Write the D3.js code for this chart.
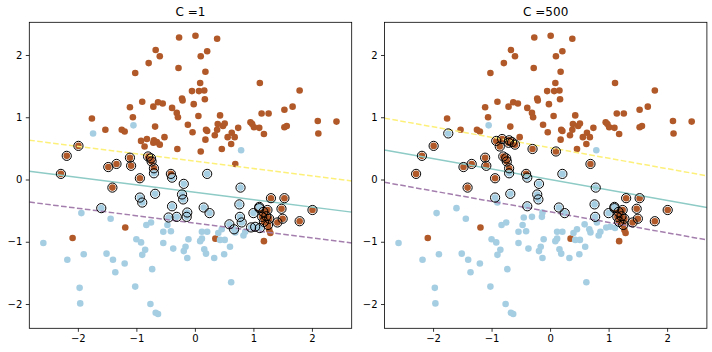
<!DOCTYPE html>
<html><head><meta charset="utf-8">
<script src="https://cdn.jsdelivr.net/npm/d3@7"></script>
<style>body{margin:0;background:#fff}text{font-family:"DejaVu Sans",sans-serif}</style>
</head><body>
<svg id="chart" width="712" height="352"></svg>
<script>
// ---- data ----
const titles = ["C =1", "C =500"];
const xTicks = [-2, -1, 0, 1, 2];
const yTicks = [-2, -1, 0, 1, 2];
const xDomain = [-2.83, 2.68];
const yDomain = [-2.39, 2.525];

const brownX = [-0.27,0.01,-0.67,-0.60,-0.79,-0.28,-1.02,-0.05,-0.22,-0.21,
 -0.90,-0.63,-0.55,-0.71,-1.11,-0.39,-0.31,-0.29,-1.06,-1.76,
 -0.02,-0.68,-0.12,-0.04,-1.53,-1.25,-1.20,-0.52,-0.82,-0.92,
 -0.70,-0.65,-0.60,-0.71,-0.86,-0.30,0.38,0.10,0.21,0.18,
 0.09,0.07,0.16,0.17,1.11,1.79,1.14,1.26,1.53,1.67,
 0.06,0.43,0.39,0.48,0.51,0.19,0.21,0.38,0.34,0.95,
 0.98,1.01,1.10,0.74,0.63,0.56,0.68,1.18,0.18,0.62,
 0.46,0.10,1.53,1.57,2.10,2.42,2.11,0.69,-1.99,-2.19,
 -1.11,-0.80,-0.75,-0.74,-1.48,-1.34,-1.09,-0.70,-2.29,-0.41,
 -0.94,-1.41,1.30,1.53,1.48,2.01,1.50,1.41,1.79,1.10,
 1.17,1.24,1.15,1.22,1.27,1.18,1.25,1.27,1.29,1.18,
 0.35,-1.19,-2.09];
const brownY = [2.28,2.31,2.08,1.98,1.87,1.79,1.71,1.42,1.30,1.27,
 1.25,1.24,1.22,1.17,1.16,1.15,1.07,1.00,1.00,0.98,
 1.21,0.85,0.88,0.76,0.80,0.80,0.77,0.68,0.65,0.62,
 0.63,0.60,0.56,0.59,0.53,0.49,2.26,1.98,2.06,1.73,
 1.55,1.42,1.43,1.29,1.55,1.43,1.06,1.06,1.12,1.17,
 1.02,1.03,0.89,0.86,0.90,0.80,0.78,0.80,0.71,0.92,
 0.89,0.84,0.83,0.83,0.75,0.68,0.68,0.73,0.64,0.57,
 0.49,0.45,0.84,0.86,0.94,0.93,0.74,0.25,0.54,0.38,
 0.35,0.37,0.34,0.29,0.20,0.25,0.22,0.18,0.09,0.09,
 0.02,-0.13,-0.30,-0.30,-0.47,-0.49,-0.63,-0.69,-0.67,-0.46,
 -0.52,-0.49,-0.60,-0.59,-0.63,-0.68,-0.73,-0.81,-0.86,-0.99,
 -0.95,-0.77,-0.94];
const blueX = [-1.74,-1.05,0.79,-0.70,-0.39,0.21,-0.19,-0.94,-0.90,-0.68,
 -0.22,-0.20,-1.60,-0.39,-0.45,-0.31,-0.13,-0.14,0.78,0.76,
 1.10,0.15,0.25,1.00,0.77,0.59,0.67,0.80,0.96,1.03,
 1.11,-1.94,-1.44,-0.83,-0.75,-0.47,-0.54,-0.41,-2.59,-1.00,
 -0.92,-0.54,-0.11,-0.16,-0.19,-0.37,-0.85,-0.90,-1.90,-1.51,
 -0.13,-2.18,-1.40,-1.20,-1.36,-0.73,-1.97,-1.02,-1.96,-0.76,
 -0.67,-0.63,0.21,0.12,0.40,0.46,0.12,0.09,0.43,0.51,
 0.60,0.16,0.19,0.33,0.50,0.62,0.83,0.86,0.69];
const blueY = [0.74,0.87,0.47,0.10,0.03,0.09,-0.07,-0.29,-0.37,-0.23,
 -0.24,-0.32,-0.46,-0.43,-0.61,-0.60,-0.53,-0.60,-0.13,-0.40,
 -0.44,-0.45,-0.54,-0.54,-0.60,-0.72,-0.80,-0.69,-0.77,-0.76,
 -0.78,-0.54,-0.63,-0.73,-0.69,-0.73,-0.84,-0.83,-1.02,-0.96,
 -1.01,-1.02,-0.96,-1.08,-1.15,-1.11,-1.13,-1.21,-1.20,-1.19,
 -1.26,-1.29,-1.29,-1.35,-1.49,-1.44,-1.74,-1.72,-1.99,-2.00,
 -2.14,-2.16,-0.84,-0.84,-0.86,-0.80,-0.95,-0.99,-0.97,-0.97,
 -1.08,-1.12,-1.19,-1.26,-1.20,-1.65,-0.90,-0.84,-0.85];

// support vector indices per panel
const svBrownC1 = [78,79,80,81,82,83,84,85,86,87,88,89,90,91,92,93,94,95,96,97,98,99,100,101,102,103,104,105,106];
const svBlueC1 = [3,4,5,6,7,8,9,10,11,12,13,14,15,16,17,18,19,20,21,22,23,24,25,26,27,28,29,30];
const svBrownC500 = [28,29,30,31,32,33,34,35,71,77,78,79,80,81,82,83,84,85,86,87,88,89,90,91,92,93,94,95,96,97,98,99,100,101,102,103,104,105,106];
const svBlueC500 = [0,3,4,5,6,7,9,10,11,13,18,19,20,21,22,23,24];

// decision function lines: y = slope*x + intercept  (upper margin, boundary, lower margin)
const slopes = [-0.119, -0.168];
const interceptsC1 = [0.295, -0.205, -0.70];
const interceptsC500 = [0.51, 0.0, -0.52];

// ---- drawing ----
const svg = d3.select("#chart");
const panelLeft = [29.3, 384.5];
const topY = 22.3, W = 322.4, H = 306;
const brownColor = "#b15928", blueColor = "#a6cee3";
const lineStyles = [
  {color: "#fdf07a", dash: "5.6,2.4"},
  {color: "#8ecbc6", dash: null},
  {color: "#a47fae", dash: "5.6,2.4"}
];

const panelData = [
  {title: titles[0], slope: slopes[0], ints: interceptsC1, svB: svBrownC1, svL: svBlueC1},
  {title: titles[1], slope: slopes[1], ints: interceptsC500, svB: svBrownC500, svL: svBlueC500}
];

panelData.forEach((p, i) => {
  const x = d3.scaleLinear().domain(xDomain).range([0, W]);
  const y = d3.scaleLinear().domain(yDomain).range([H, 0]);
  const g = svg.append("g").attr("transform", `translate(${panelLeft[i]},${topY})`);
  const clipId = "clip" + i;
  g.append("clipPath").attr("id", clipId).append("rect").attr("width", W).attr("height", H);
  const plot = g.append("g").attr("clip-path", `url(#${clipId})`);

  brownX.forEach((v, k) => {
    plot.append("circle").attr("cx", x(v)).attr("cy", y(brownY[k])).attr("r", 3.3).attr("fill", brownColor);
  });
  blueX.forEach((v, k) => {
    plot.append("circle").attr("cx", x(v)).attr("cy", y(blueY[k])).attr("r", 3.3).attr("fill", blueColor);
  });

  p.ints.forEach((b, k) => {
    const st = lineStyles[k];
    const l = plot.append("line")
      .attr("x1", x(xDomain[0])).attr("y1", y(p.slope * xDomain[0] + b))
      .attr("x2", x(xDomain[1])).attr("y2", y(p.slope * xDomain[1] + b))
      .attr("stroke", st.color).attr("stroke-width", 1.5).attr("fill", "none");
    if (st.dash) l.attr("stroke-dasharray", st.dash);
  });

  p.svB.forEach(k => {
    plot.append("circle").attr("cx", x(brownX[k])).attr("cy", y(brownY[k])).attr("r", 4.6)
      .attr("fill", "none").attr("stroke", "#000").attr("stroke-width", 1);
  });
  p.svL.forEach(k => {
    plot.append("circle").attr("cx", x(blueX[k])).attr("cy", y(blueY[k])).attr("r", 4.6)
      .attr("fill", "none").attr("stroke", "#000").attr("stroke-width", 1);
  });

  const xa = g.append("g").attr("transform", `translate(0,${H})`)
    .call(d3.axisBottom(x).tickValues(xTicks).tickSize(3.5).tickPadding(3.5).tickFormat(d3.format("d")));
  const ya = g.append("g")
    .call(d3.axisLeft(y).tickValues(yTicks).tickSize(3.5).tickPadding(3.5).tickFormat(d3.format("d")));
  [xa, ya].forEach(a => {
    a.select(".domain").remove();
    a.selectAll("line").attr("stroke", "#000").attr("stroke-width", 0.8);
    a.selectAll("text").attr("font-size", 10).attr("fill", "#000").attr("font-family", "DejaVu Sans");
  });
  g.append("rect").attr("width", W).attr("height", H).attr("fill", "none")
    .attr("stroke", "#000").attr("stroke-width", 0.8);

  g.append("text").attr("x", W / 2).attr("y", -6).attr("text-anchor", "middle")
    .attr("font-size", 12).attr("fill", "#000").text(p.title);
});
</script>
</body></html>
